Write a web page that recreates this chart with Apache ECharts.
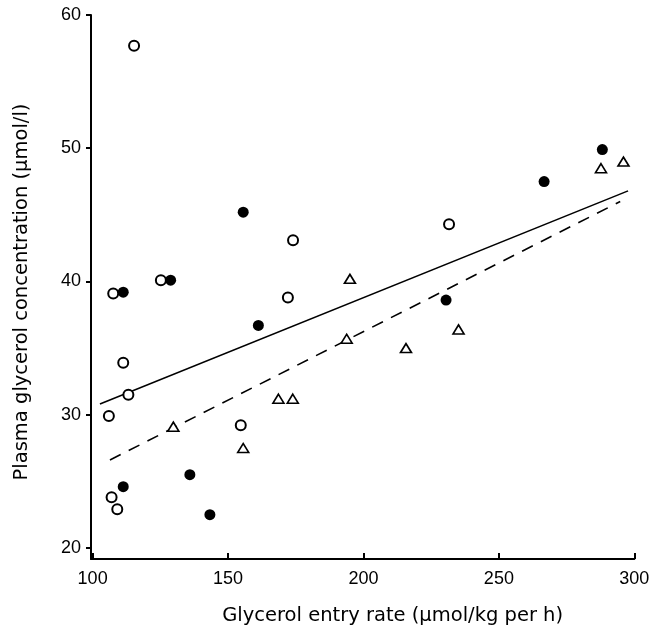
<!DOCTYPE html>
<html>
<head>
<meta charset="utf-8">
<script src="https://cdn.jsdelivr.net/npm/echarts@6/dist/echarts.min.js"></script>
<style>
html, body { margin: 0; padding: 0; background: #fff; }
#glycerolchart { width: 655px; height: 634px; }
</style>
</head>
<body>
<div id="glycerolchart"></div>
<script>
// 数据：[entry rate, plasma concentration]
var openCircles = [
    [115.3, 57.7], [107.6, 39.1], [125.2, 40.1], [172.1, 38.8], [174.0, 43.1],
    [111.3, 33.9], [113.2, 31.5], [106.0, 29.9], [154.7, 29.2], [107.0, 23.8],
    [109.1, 22.9], [231.6, 44.3]
];
var filledCircles = [
    [111.3, 39.2], [128.8, 40.1], [155.6, 45.2], [161.2, 36.7], [111.3, 24.6],
    [135.9, 25.5], [143.3, 22.5], [230.5, 38.6], [266.7, 47.5], [288.2, 49.9]
];
var triangles = [
    [129.8, 29.1], [155.6, 27.5], [168.6, 31.2], [173.9, 31.2], [193.8, 35.7],
    [215.7, 35.0], [235.1, 36.4], [195.0, 40.2], [287.7, 48.5], [296.0, 49.0]
];
// regression lines (end points)
var solidLine = [[102.7, 30.8], [297.7, 46.8]];
var dashedLine = [[106.4, 26.6], [294.8, 46.0]];

var xTicks = [100, 150, 200, 250, 300];
var yTicks = [20, 30, 40, 50, 60];

var titleFont = 'DejaVu Sans';
var tickFont = 'Liberation Sans';

var glycerolChart = echarts.init(document.getElementById('glycerolchart'));

var option_glycerol = {
    backgroundColor: '#fff',
    animation: false,
    grid: {
        left: 91,
        right: 20.7,
        top: 15,
        bottom: 75
    },
    xAxis: {
        type: 'value',
        min: 99.4,
        max: 300,
        name: 'Glycerol entry rate (\u03bcmol/kg per h)',
        nameLocation: 'middle',
        nameGap: 47,
        nameTextStyle: {
            fontFamily: titleFont,
            fontSize: 19.5,
            color: '#000',
            padding: [0, 0, 0, 60]
        },
        axisLine: { lineStyle: { color: '#000', width: 2 } },
        axisTick: {
            inside: true,
            length: 6,
            customValues: xTicks,
            lineStyle: { color: '#000', width: 2 }
        },
        axisLabel: {
            customValues: xTicks,
            margin: 11,
            fontFamily: tickFont,
            fontSize: 18,
            color: '#000'
        },
        splitLine: { show: false }
    },
    yAxis: {
        type: 'value',
        min: 19.17,
        max: 60,
        name: 'Plasma glycerol concentration (\u03bcmol/l)',
        nameLocation: 'middle',
        nameGap: 59,
        nameTextStyle: {
            fontFamily: titleFont,
            fontSize: 19.5,
            color: '#000',
            padding: [0, 10, 0, 0]
        },
        axisLine: { lineStyle: { color: '#000', width: 2 } },
        axisTick: {
            length: 5,
            customValues: yTicks,
            lineStyle: { color: '#000', width: 2 }
        },
        axisLabel: {
            customValues: yTicks,
            margin: 10,
            fontFamily: tickFont,
            fontSize: 18,
            color: '#000'
        },
        splitLine: { show: false }
    },
    series: [
        {
            type: 'line',
            data: solidLine,
            symbol: 'none',
            z: 1,
            lineStyle: { color: '#000', width: 1.6 }
        },
        {
            type: 'line',
            data: dashedLine,
            symbol: 'none',
            z: 1,
            lineStyle: { color: '#000', width: 1.6, type: [12, 9] }
        },
        {
            type: 'scatter',
            data: openCircles,
            symbol: 'circle',
            symbolSize: 10,
            z: 3,
            itemStyle: { color: '#fff', borderColor: '#000', borderWidth: 2, opacity: 1 }
        },
        {
            type: 'scatter',
            data: filledCircles,
            symbol: 'circle',
            symbolSize: 11,
            z: 3,
            itemStyle: { color: '#000', opacity: 1 }
        },
        {
            type: 'scatter',
            data: triangles,
            symbol: 'triangle',
            symbolSize: [11, 9],
            z: 3,
            itemStyle: { color: '#fff', borderColor: '#000', borderWidth: 1.6, opacity: 1 }
        }
    ]
};

glycerolChart.setOption(option_glycerol);
</script>
</body>
</html>
